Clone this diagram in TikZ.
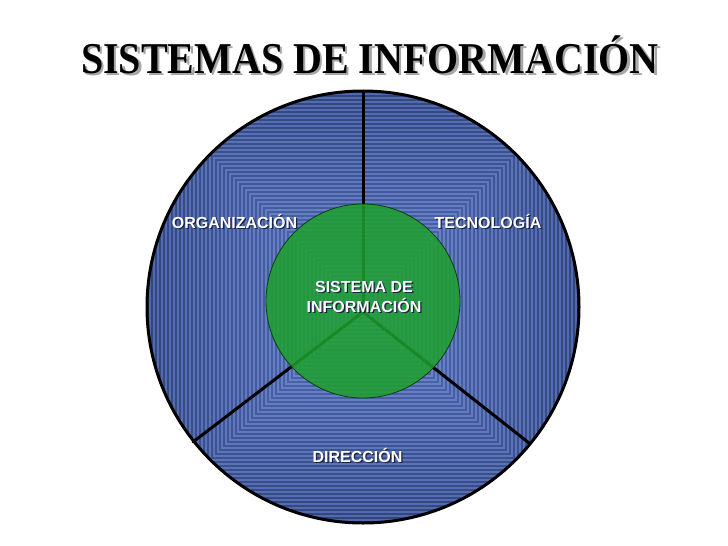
\documentclass[tikz,border=0pt]{standalone}
\usepackage{fontspec}
\setmainfont{Liberation Serif}
\newfontfamily\labfont{Liberation Sans}
\definecolor{outD}{HTML}{32447C}
\definecolor{outL}{HTML}{5068AC}
\definecolor{inD}{HTML}{5670BC}
\definecolor{inL}{HTML}{7290D6}
\definecolor{greenF}{HTML}{1EA02E}
\definecolor{greenB}{HTML}{0B3F0E}
\definecolor{lshadow}{HTML}{1A2245}
\newcommand{\ttl}{\scalebox{1}[1.1]{SISTEMAS DE INFORMACIÓN}}
\tikzset{
  titletext/.style={font=\bfseries\fontsize{40}{44}\selectfont, anchor=base, inner sep=0},
  labtext/.style={font=\labfont\bfseries\fontsize{16}{19}\selectfont, anchor=base, inner sep=0, text=white},
  labshadow/.style={labtext, text=lshadow},
  spoke/.style={line width=3pt, line cap=round},
}
\begin{document}
\begin{tikzpicture}[x=1pt,y=-1pt]
\useasboundingbox[fill=white] (0,0) rectangle (728,546);
\coordinate (C) at (363,307);
\coordinate (S) at (363,312);
\coordinate (T) at (363,91);
\coordinate (L) at (193,442);
\coordinate (R) at (529,443);
% striped blue disc
\begin{scope}
\clip (C) circle (216);
\foreach \i in {0,...,107} {
  \pgfmathtruncatemacro\s{216-2*\i}
  \pgfmathtruncatemacro\p{\s/2.16}
  \ifodd\i \def\col{outL!\p!inL}\else\def\col{outD!\p!inD}\fi
  \fill[fill=\col] (363-\s,307-\s) rectangle (363+\s,307+\s);
}
\end{scope}
% spokes
\draw[spoke] (S) -- (T);
\draw[spoke] (S) -- (L);
\draw[spoke] (S) -- (R);
\draw[line width=3pt] (C) circle (216);
% green circle
\fill[greenF, fill opacity=0.86] (363,301) circle (97);
\draw[greenB, line width=0.8pt] (363,301) circle (97);
% title
\node[titletext, text=black!35] (titlesh) at (372.5,75.5) {\ttl};
\node[titletext] (title) at (370,73) {\ttl};
% labels
\node[labshadow] (orgsh) at (235.8,229.3) {ORGANIZACIÓN};
\node[labtext] (org) at (234.5,228) {ORGANIZACIÓN};
\node[labshadow] (tecsh) at (489.3,229.3) {TECNOLOGÍA};
\node[labtext] (tec) at (488,228) {TECNOLOGÍA};
\node[labshadow] (dirsh) at (358.8,463.3) {DIRECCIÓN};
\node[labtext] (dir) at (357.5,462) {DIRECCIÓN};
\node[labshadow] (si1sh) at (365.3,293.3) {SISTEMA DE};
\node[labtext] (si1) at (364,292) {SISTEMA DE};
\node[labshadow] (si2sh) at (365.3,313.3) {INFORMACIÓN};
\node[labtext] (si2) at (364,312) {INFORMACIÓN};
\end{tikzpicture}
\end{document}
